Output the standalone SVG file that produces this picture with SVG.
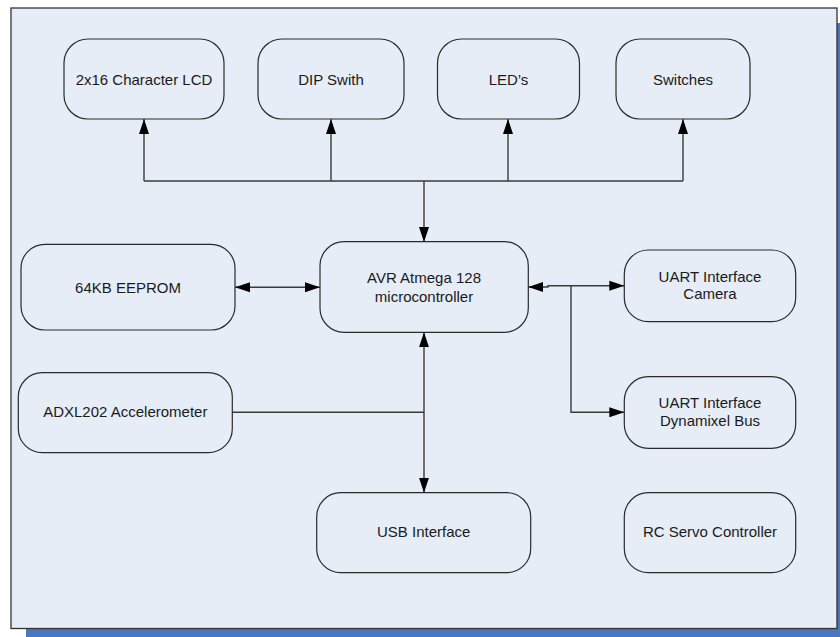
<svg xmlns="http://www.w3.org/2000/svg" width="840" height="637" viewBox="0 0 840 637">
  <style>
    .node rect { fill: none; stroke: #2b2b2b; stroke-width: 1.2; }
    .node text { font-family: "Liberation Sans", Arial, sans-serif; font-size: 15px; fill: #1a1a1a; text-anchor: middle; }
    .conn { fill: none; stroke: #3a3a3a; stroke-width: 1.4; }
  </style>
  <defs>
    <marker id="arr" markerUnits="userSpaceOnUse" markerWidth="16" markerHeight="11" refX="15" refY="5" orient="auto-start-reverse" viewBox="0 0 16 10">
      <path d="M0,0 L15,5 L0,10 z" fill="#000"/>
    </marker>
  </defs>

  <g id="background">
    <rect x="26" y="23" width="830" height="630" fill="#4a77bf"/>
    <rect x="11" y="8" width="826" height="620.5" fill="#e6edf7" stroke="#333" stroke-width="1.3"/>
  </g>

  <g id="connectors">
    <path class="conn" d="M144,181 H683"/>
    <path class="conn" d="M144,181 V119" marker-end="url(#arr)"/>
    <path class="conn" d="M331,181 V119" marker-end="url(#arr)"/>
    <path class="conn" d="M508,181 V119" marker-end="url(#arr)"/>
    <path class="conn" d="M683,181 V119" marker-end="url(#arr)"/>
    <path class="conn" d="M424,181 V242" marker-end="url(#arr)"/>
    <path class="conn" d="M235,287.3 H320" marker-start="url(#arr)" marker-end="url(#arr)"/>
    <path class="conn" d="M424,332.3 V492.7" marker-start="url(#arr)" marker-end="url(#arr)"/>
    <path class="conn" d="M232.3,412.3 H424"/>
    <path class="conn" d="M528.3,287 H548 V285.7 H624.3" marker-start="url(#arr)" marker-end="url(#arr)"/>
    <path class="conn" d="M571,285.7 V412.3 H624.3" marker-end="url(#arr)"/>
  </g>

  <g id="lcd" class="node">
    <rect x="64" y="39" width="160" height="80" rx="24"/>
    <text x="144" y="84.5">2x16 Character LCD</text>
  </g>
  <g id="dip" class="node">
    <rect x="258" y="39" width="146" height="80" rx="24"/>
    <text x="331" y="84.5">DIP Swith</text>
  </g>
  <g id="leds" class="node">
    <rect x="437.5" y="39" width="142" height="80" rx="24"/>
    <text x="508.5" y="84.5">LED’s</text>
  </g>
  <g id="switches" class="node">
    <rect x="616" y="39" width="134" height="80" rx="24"/>
    <text x="683" y="84.5">Switches</text>
  </g>
  <g id="eeprom" class="node">
    <rect x="21" y="244.3" width="214" height="85.7" rx="24"/>
    <text x="128" y="292.5">64KB EEPROM</text>
  </g>
  <g id="avr" class="node">
    <rect x="320" y="241.7" width="208.3" height="90.6" rx="24"/>
    <text x="424" y="283.3">AVR Atmega 128</text>
    <text x="424" y="301.5">microcontroller</text>
  </g>
  <g id="uart-camera" class="node">
    <rect x="624.3" y="250" width="171.4" height="71.7" rx="24"/>
    <text x="710" y="281.7">UART Interface</text>
    <text x="710" y="299.3">Camera</text>
  </g>
  <g id="adxl" class="node">
    <rect x="18.3" y="372.7" width="214" height="80" rx="24"/>
    <text x="125.3" y="417">ADXL202 Accelerometer</text>
  </g>
  <g id="uart-dynamixel" class="node">
    <rect x="624.3" y="376.7" width="171.4" height="71.6" rx="24"/>
    <text x="710" y="408.3">UART Interface</text>
    <text x="710" y="426">Dynamixel Bus</text>
  </g>
  <g id="usb" class="node">
    <rect x="316.7" y="492.7" width="214" height="80" rx="24"/>
    <text x="423.7" y="537">USB Interface</text>
  </g>
  <g id="rc-servo" class="node">
    <rect x="624.3" y="492.7" width="171.4" height="80" rx="24"/>
    <text x="710" y="537">RC Servo Controller</text>
  </g>
</svg>
